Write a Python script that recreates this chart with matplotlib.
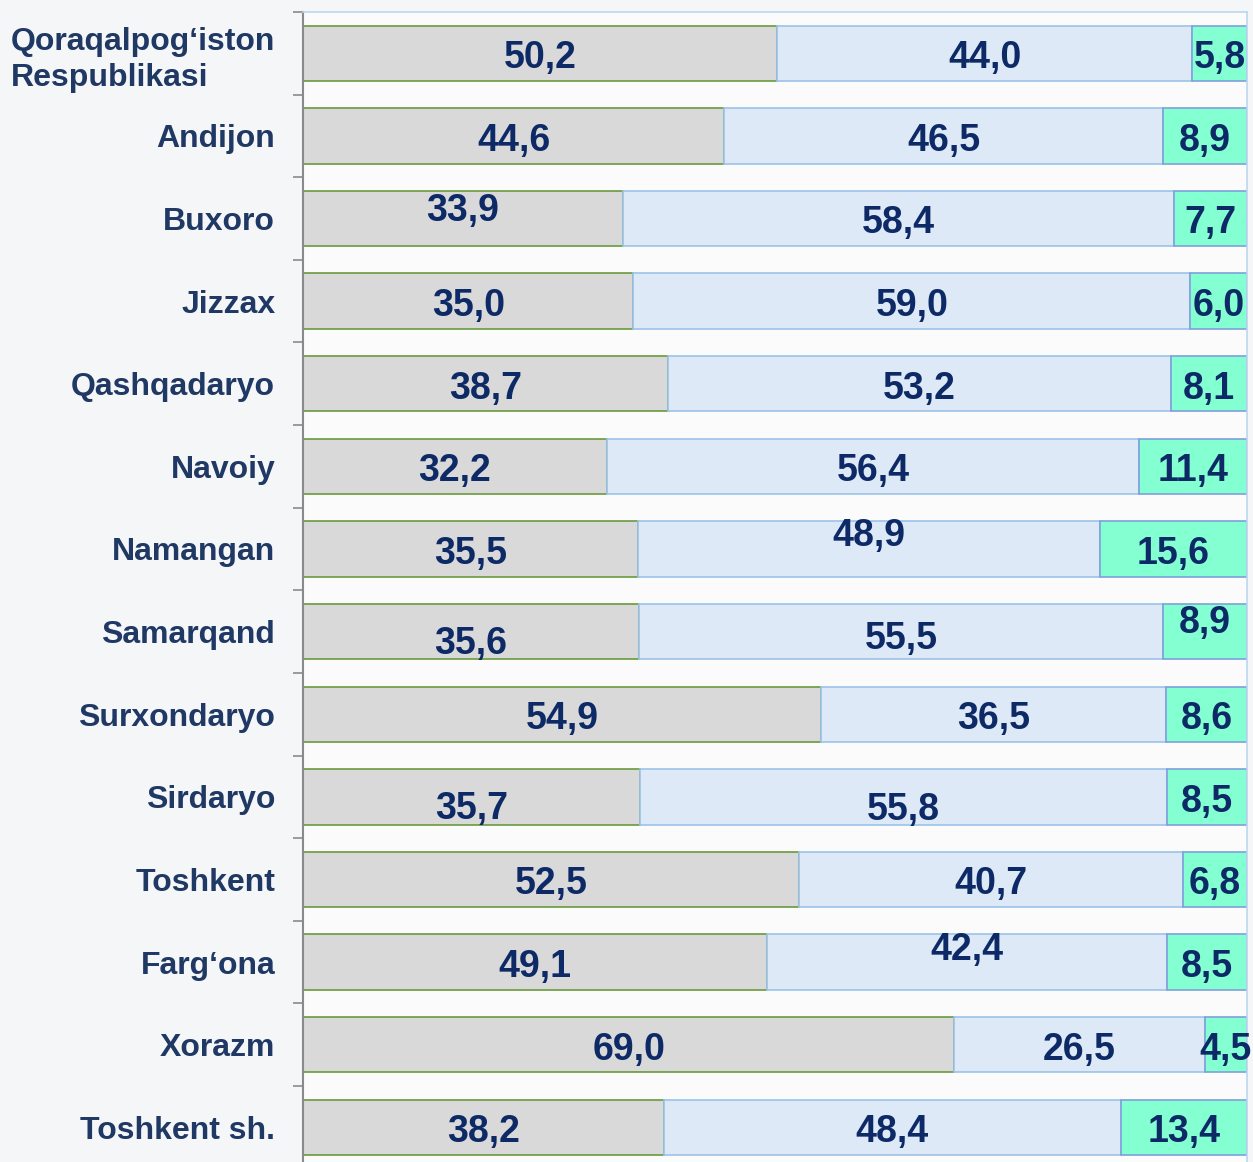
import matplotlib
matplotlib.use("Agg")
import matplotlib.pyplot as plt
import numpy as np

categories = ["Qoraqalpog\u2018iston\nRespublikasi", "Andijon", "Buxoro", "Jizzax",
              "Qashqadaryo", "Navoiy", "Namangan", "Samarqand", "Surxondaryo",
              "Sirdaryo", "Toshkent", "Farg\u2018ona", "Xorazm", "Toshkent sh."]
part1 = [50.2, 44.6, 33.9, 35.0, 38.7, 32.2, 35.5, 35.6, 54.9, 35.7, 52.5, 49.1, 69.0, 38.2]
part2 = [44.0, 46.5, 58.4, 59.0, 53.2, 56.4, 48.9, 55.5, 36.5, 55.8, 40.7, 42.4, 26.5, 48.4]
part3 = [5.8, 8.9, 7.7, 6.0, 8.1, 11.4, 15.6, 8.9, 8.6, 8.5, 6.8, 8.5, 4.5, 13.4]

# vertical label nudges (in category units), styling only
nudge = {
    (2, 0): -0.15, (6, 1): -0.22, (7, 0): 0.09, (7, 1): 0.03, (7, 2): -0.16,
    (9, 0): 0.09, (9, 1): 0.1, (11, 1): -0.21,
}

plt.rcParams['font.family'] = ['Liberation Sans', 'DejaVu Sans']
fig = plt.figure(figsize=(12.53, 11.62), dpi=100)
fig.patch.set_facecolor('#f5f6f7')
ax = fig.add_axes([303/1253, -6.6/1162, 944/1253, 1156.6/1162])
ax.set_facecolor('#fbfbfb')

n = len(categories)
y = np.arange(n)
h = 0.67
series = [part1, part2, part3]
faces = ['#d9d9d9', '#dde9f6', '#84ffd2']
edges = ['#6a9a3c', '#9cc3e8', '#7f9fdc']
left = np.zeros(n)
for si, (vals, fc, ec) in enumerate(zip(series, faces, edges)):
    vals = np.array(vals)
    ax.barh(y, vals, left=left, height=h, color=fc, edgecolor=ec, linewidth=1.2, zorder=2)
    for i in range(n):
        cx = left[i] + vals[i] / 2
        cy = y[i] + nudge.get((i, si), 0) + 0.06
        ax.text(cx, cy, f"{vals[i]:.1f}".replace('.', ','), ha='center', va='center',
                fontsize=27, fontweight='bold', color='#0d2a66', zorder=3, clip_on=False)
    left = left + vals

ax.set_xlim(0, 100)
ax.set_ylim(n - 0.5, -0.5)
ax.set_xticks([])
ax.set_yticks(y)
ax.set_yticklabels(categories, fontsize=23, fontweight='bold', color='#1f3864', linespacing=1.25)
ax.tick_params(axis='y', which='major', length=0, pad=20)
ax.set_yticks(np.arange(-0.5, n, 1), minor=True)
ax.tick_params(axis='y', which='minor', length=7, color='#8a8a8a', width=1.2)
for lab in ax.get_yticklabels():
    lab.set_horizontalalignment('right')
    lab.set_multialignment('left')
ax.spines['left'].set_color('#8a8a8a')
ax.spines['left'].set_linewidth(1.5)
for s in ['top', 'right']:
    ax.spines[s].set_color('#bcd6ee')
    ax.spines[s].set_linewidth(1.2)
ax.spines['bottom'].set_visible(False)

fig.savefig('out.png', dpi=100, facecolor=fig.get_facecolor())
